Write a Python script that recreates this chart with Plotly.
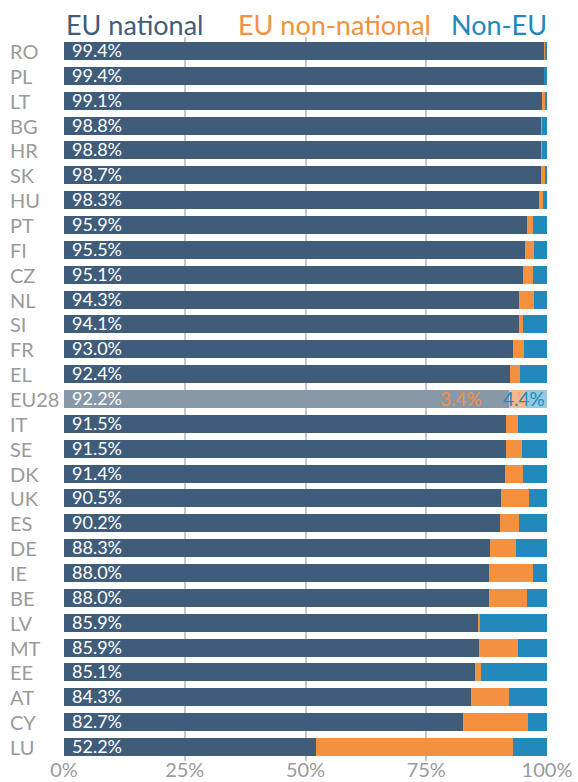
import plotly.graph_objects as go

countries = ["RO","PL","LT","BG","HR","SK","HU","PT","FI","CZ","NL","SI","FR","EL","EU28",
             "IT","SE","DK","UK","ES","DE","IE","BE","LV","MT","EE","AT","CY","LU"]
eu_national = [99.4,99.4,99.1,98.8,98.8,98.7,98.3,95.9,95.5,95.1,94.3,94.1,93.0,92.4,92.2,
               91.5,91.5,91.4,90.5,90.2,88.3,88.0,88.0,85.9,85.9,85.1,84.3,82.7,52.2]
eu_non_national = [0.3,0.05,0.4,0.1,0.1,1.0,0.8,1.2,1.9,2.1,3.1,1.0,2.3,2.1,3.4,
                   2.5,3.3,3.7,5.8,3.9,5.2,9.1,7.9,0.2,8.1,1.2,7.9,13.3,40.8]
non_eu = [0.3,0.55,0.5,1.1,1.1,0.3,0.9,2.9,2.6,2.8,2.6,4.9,4.7,5.5,4.4,
          6.0,5.2,4.9,3.7,5.9,6.5,2.9,4.1,13.9,6.0,13.7,7.8,4.0,7.0]
x_ticks = [0, 25, 50, 75, 100]
x_tick_labels = ["0%", "25%", "50%", "75%", "100%"]

DARK, ORANGE, BLUE = "#3f5d7b", "#f39140", "#2388bc"
DARK_L, ORANGE_L, BLUE_L = "#8799a8", "#f7b88a", "#93c9e1"
HL = "EU28"
FONT = "Lato"

def cols(normal, light):
    return [light if c == HL else normal for c in countries]

fig = go.Figure()
fig.add_bar(y=countries, x=eu_national, orientation="h", marker_color=cols(DARK, DARK_L),
            marker_line_width=0, name="EU national")
fig.add_bar(y=countries, x=eu_non_national, orientation="h", marker_color=cols(ORANGE, ORANGE_L),
            marker_line_width=0, name="EU non-national")
fig.add_bar(y=countries, x=non_eu, orientation="h", marker_color=cols(BLUE, BLUE_L),
            marker_line_width=0, name="Non-EU")

W, H = 578, 782
L, R, T, B = 64, 31, 36.5, 20.5
pw = W - L - R
ph = H - T - B

ann = []
for c in countries:
    ann.append(dict(x=(8 - L) / pw, xref="paper", y=c, yref="y", text=c, showarrow=False,
                    xanchor="left", yanchor="middle",
                    font=dict(family=FONT, size=20, color="#9a9a9a")))
for c, v in zip(countries, eu_national):
    ann.append(dict(x=0, xref="x", y=c, yref="y", text=f"{v:.1f}%", showarrow=False,
                    xanchor="left", yanchor="middle", xshift=6, yshift=1,
                    font=dict(family=FONT, size=18, color="white")))
i = countries.index(HL)
ann.append(dict(x=87, xref="x", y=HL, yref="y", text=f"{eu_non_national[i]:.1f}%", showarrow=False,
                xanchor="right", yanchor="middle", yshift=1,
                font=dict(family=FONT, size=19, color=ORANGE)))
ann.append(dict(x=100, xref="x", y=HL, yref="y", text=f"{non_eu[i]:.1f}%", showarrow=False,
                xanchor="right", yanchor="middle", yshift=1,
                font=dict(family=FONT, size=19, color=BLUE)))
ly = 1 + (T - 24) / ph
ann.append(dict(x=0, xref="paper", y=ly, yref="paper", text="EU national", showarrow=False,
                xanchor="left", yanchor="middle", font=dict(family=FONT, size=27, color=DARK)))
ann.append(dict(x=(334.5 - L) / pw, xref="paper", y=ly, yref="paper", text="EU non-national",
                showarrow=False, xanchor="center", yanchor="middle",
                font=dict(family=FONT, size=27, color=ORANGE)))
ann.append(dict(x=(549 - L) / pw, xref="paper", y=ly, yref="paper", text="Non-EU", showarrow=False,
                xanchor="right", yanchor="middle", font=dict(family=FONT, size=27, color=BLUE)))

fig.update_layout(
    width=W, height=H, barmode="stack", bargap=0.28, showlegend=False,
    margin=dict(l=L, r=R, t=T, b=B, autoexpand=False),
    paper_bgcolor="white", plot_bgcolor="white",
    font=dict(family=FONT),
    annotations=ann,
)
fig.update_xaxes(range=[0, 100], tickvals=x_ticks, ticktext=x_tick_labels,
                 showgrid=True, gridcolor="#c8c8c8", gridwidth=1.5, zeroline=False,
                 showline=False, ticks="", automargin=False, ticklabelstandoff=-5,
                 tickfont=dict(family=FONT, size=20, color="#9a9a9a"))
fig.update_yaxes(autorange="reversed", showticklabels=False, showgrid=False, zeroline=False,
                 showline=False, ticks="", automargin=False)

fig.write_html("out.html", config={"displayModeBar": False},
               post_script="document.body.style.margin='0';document.body.style.overflow='hidden';")
